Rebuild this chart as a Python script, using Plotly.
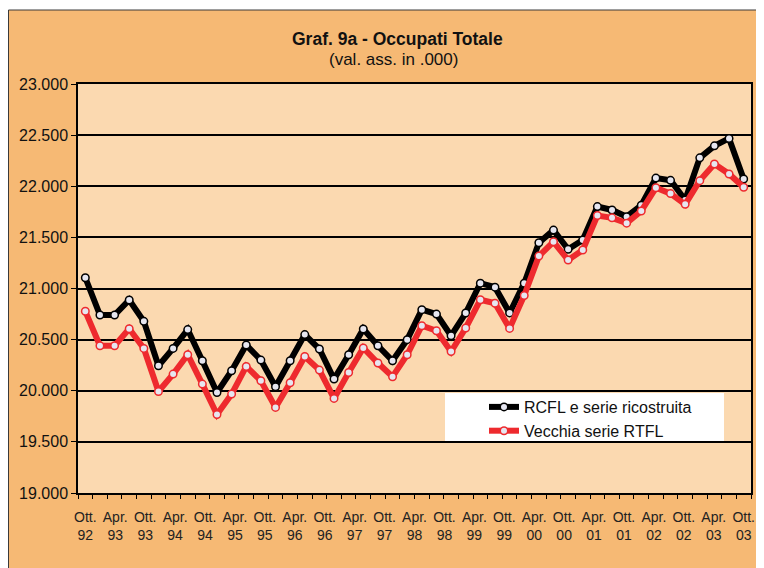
import numpy as np
import plotly.graph_objects as go

# Quarterly values (thousands), Oct 1992 onward
rcfl = [21105, 20741, 20741, 20888, 20679, 20245, 20414, 20598, 20293, 19983,
        20196, 20447, 20300, 20039, 20293, 20549, 20408, 20114, 20352, 20604,
        20440, 20293, 20500, 20793, 20750, 20538, 20760, 21052, 21013, 20761,
        21052, 21447, 21571, 21383, 21474, 21801, 21768, 21702, 21814, 22080,
        22058, 21865, 22278, 22395, 22468, 22071]
rtfl = [20777, 20440, 20440, 20606, 20414, 19993, 20163, 20352, 20065, 19768,
        19967, 20238, 20098, 19837, 20078, 20335, 20202, 19925, 20179, 20418,
        20271, 20137, 20352, 20636, 20587, 20384, 20614, 20890, 20856, 20610,
        20932, 21317, 21457, 21278, 21376, 21714, 21691, 21639, 21758, 21985,
        21928, 21823, 22055, 22218, 22120, 21990]
tick_labels = ["Ott.<br>92", "Apr.<br>93", "Ott.<br>93", "Apr.<br>94", "Ott.<br>94",
               "Apr.<br>95", "Ott.<br>95", "Apr.<br>96", "Ott.<br>96", "Apr.<br>97",
               "Ott.<br>97", "Apr.<br>98", "Ott.<br>98", "Apr.<br>99", "Ott.<br>99",
               "Apr.<br>00", "Ott.<br>00", "Apr.<br>01", "Ott.<br>01", "Apr.<br>02",
               "Ott.<br>02", "Apr.<br>03", "Ott.<br>03"]
series_names = ["RCFL e serie ricostruita", "Vecchia serie RTFL"]

FONT = "Arial, Liberation Sans, sans-serif"
OUTER = "#F6B974"
PLOTBG = "#FBD9B0"
RED = "#EE2A2E"
MFILL = "#E6E6F0"

n = len(rcfl)
x = np.arange(n)
tickvals = np.linspace(0, n - 1, len(tick_labels))

fig = go.Figure()
fig.add_trace(go.Scatter(
    x=x, y=rcfl, name=series_names[0], mode="lines+markers", legendgroup="a",
    line=dict(color="black", width=6),
    marker=dict(symbol="circle", size=7.5, color=MFILL, line=dict(color="black", width=1.5)),
))
fig.add_trace(go.Scatter(
    x=x, y=rtfl, name=series_names[1], mode="lines+markers", legendgroup="b",
    line=dict(color=RED, width=6),
    marker=dict(symbol="circle", size=7.5, color=MFILL, line=dict(color=RED, width=1.5)),
))

OFF = 8  # page body margin
W, H = 764, 568
# plot area in page pixels: x 78..751, y 84..493
PL, PR, PT, PB = 78, 751, 84, 493
L = PL - OFF
T = PT - OFF
R = W - (PR - OFF)
B = H - (PB - OFF)
pw, ph = PR - PL, PB - PT


def px_x(p):  # page pixel -> paper x
    return (p - PL) / pw


def px_y(p):  # page pixel -> paper y
    return (PB - p) / ph


shapes = [
    # white strip above the chart frame
    dict(type="rect", xref="paper", yref="paper", x0=px_x(0), x1=px_x(W + 20),
         y0=px_y(10), y1=px_y(0), fillcolor="white", line=dict(width=0), layer="above"),
    # chart frame lines
    dict(type="line", xref="paper", yref="paper", x0=px_x(8.5), x1=px_x(W + 20),
         y0=px_y(10), y1=px_y(10), line=dict(color="#3a3a3a", width=1), layer="above"),
    dict(type="line", xref="paper", yref="paper", x0=px_x(8.5), x1=px_x(8.5),
         y0=px_y(10), y1=px_y(H + 20), line=dict(color="#3a3a3a", width=1), layer="above"),
    # legend box
    dict(type="rect", xref="paper", yref="paper", x0=px_x(445), x1=px_x(724),
         y0=px_y(441), y1=px_y(393), fillcolor="white", line=dict(width=0), layer="above"),
]

fig.update_layout(
    width=W, height=H,
    margin=dict(l=L, r=R, t=T, b=B, pad=0),
    paper_bgcolor=OUTER, plot_bgcolor=PLOTBG,
    separators=",.",
    font=dict(family=FONT, color="#111111"),
    shapes=shapes,
    showlegend=True,
    legend=dict(x=px_x(484), y=px_y(390), xanchor="left", yanchor="top",
                bgcolor="rgba(0,0,0,0)", borderwidth=0, tracegroupgap=0,
                font=dict(family=FONT, size=16, color="#111111")),
    annotations=[
        dict(text="<b>Graf. 9a - Occupati Totale</b>", xref="paper", yref="paper",
             x=px_x(397), y=px_y(39), xanchor="center", yanchor="middle", showarrow=False,
             font=dict(family=FONT, size=17.5, color="#111111")),
        dict(text="(val. ass. in .000)", xref="paper", yref="paper",
             x=px_x(393), y=px_y(59), xanchor="center", yanchor="middle", showarrow=False,
             font=dict(family=FONT, size=17, color="#111111")),
    ],
)

fig.update_xaxes(
    range=[-0.5, n - 0.5], tickmode="array", tickvals=tickvals, ticktext=tick_labels,
    ticks="", showgrid=False, zeroline=False,
    showline=True, linecolor="black", linewidth=1.5, mirror=True,
    tickfont=dict(family=FONT, size=14, color="#222222"), ticklabelstandoff=10,
    minor=dict(tick0=-0.5, dtick=1, ticks="outside", ticklen=4, tickcolor="black",
               tickwidth=1, showgrid=False),
)
fig.update_yaxes(
    range=[19000, 23000], dtick=500, tick0=19000, tickformat=",.0f",
    ticks="outside", ticklen=5, tickcolor="black",
    showgrid=True, gridcolor="black", gridwidth=2, zeroline=False,
    showline=True, linecolor="black", linewidth=1.5, mirror=True,
    tickfont=dict(family=FONT, size=16, color="#111111"),
)

fig.write_html("out.html")
